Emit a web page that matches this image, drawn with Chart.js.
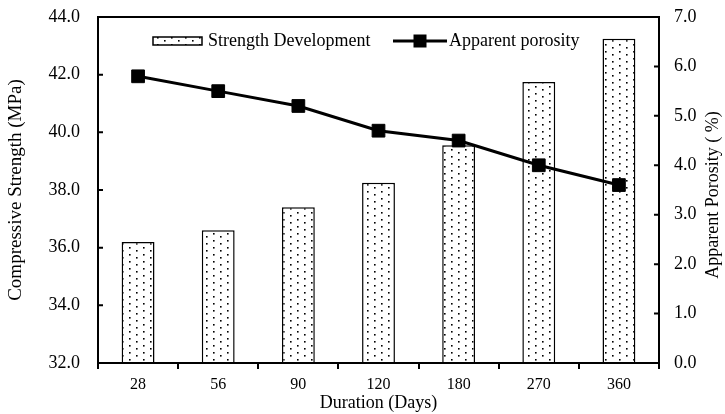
<!DOCTYPE html>
<html>
<head>
<meta charset="utf-8">
<script src="https://cdn.jsdelivr.net/npm/chart.js@4.4.1/dist/chart.umd.min.js"></script>
<style>
html,body{margin:0;padding:0;background:#fff;}
#wrap{width:725px;height:414px;position:relative;}
</style>
</head>
<body>
<div id="wrap"><canvas id="c" width="725" height="414"></canvas></div>
<script>
// ---- data ----
const categories = ['28', '56', '90', '120', '180', '270', '360'];
const strengthValues = [36.2, 36.6, 37.4, 38.25, 39.55, 41.75, 43.25];
const porosityValues = [5.8, 5.5, 5.2, 4.7, 4.5, 4.0, 3.6];
const leftTicks = [32, 34, 36, 38, 40, 42, 44];
const rightTicks = [0, 1, 2, 3, 4, 5, 6, 7];
const strengthLabel = 'Strength Development';
const porosityLabel = 'Apparent porosity';
const leftTitle = 'Compressive Strength (MPa)';
const rightTitle = 'Apparent Porosity ( %)';
const xTitle = 'Duration (Days)';

const FONT = "'Liberation Serif', 'Times New Roman', serif";

// dotted pattern
function makePattern() {
  const t = document.createElement('canvas');
  t.width = 14; t.height = 14;
  const g = t.getContext('2d');
  g.fillStyle = '#fff';
  g.fillRect(0, 0, 14, 14);
  g.fillStyle = '#000';
  [[3, 2], [10, 5], [3, 9], [10, 12]].forEach(p => g.fillRect(p[0], p[1], 1.6, 1.6));
  return document.getElementById('c').getContext('2d').createPattern(t, 'repeat');
}
const dots = makePattern();

const overlay = {
  id: 'overlay',
  afterDraw(chart) {
    const ctx = chart.ctx;
    const a = chart.chartArea;
    ctx.save();
    // frame
    ctx.strokeStyle = '#000';
    ctx.lineWidth = 2;
    ctx.strokeRect(a.left, a.top, a.right - a.left, a.bottom - a.top);
    // inward tick marks on both value axes
    ctx.beginPath();
    const yl = chart.scales.yL, yr = chart.scales.yR;
    yl.ticks.forEach(t => { const y = yl.getPixelForValue(t.value); ctx.moveTo(a.left, y); ctx.lineTo(a.left + 5, y); });
    yr.ticks.forEach(t => { const y = yr.getPixelForValue(t.value); ctx.moveTo(a.right, y); ctx.lineTo(a.right - 5, y); });
    ctx.stroke();
    // legend
    const ly = a.top + 24;
    ctx.fillStyle = dots;
    ctx.fillRect(a.left + 55, ly - 4, 49, 8);
    ctx.lineWidth = 1.5;
    ctx.strokeRect(a.left + 55, ly - 4, 49, 8);
    ctx.fillStyle = '#000';
    ctx.font = '18px ' + FONT;
    ctx.textBaseline = 'middle';
    ctx.textAlign = 'left';
    ctx.fillText(strengthLabel, a.left + 110, ly);
    ctx.lineWidth = 3;
    ctx.beginPath();
    ctx.moveTo(a.left + 295, ly);
    ctx.lineTo(a.left + 349, ly);
    ctx.stroke();
    ctx.fillRect(a.left + 322 - 6.5, ly - 6.5, 13, 13);
    ctx.fillText(porosityLabel, a.left + 351, ly);
    // right title (reads bottom to top)
    ctx.translate(713, (a.top + a.bottom) / 2 + 5);
    ctx.rotate(-Math.PI / 2);
    ctx.textAlign = 'center';
    ctx.font = '18px ' + FONT;
    ctx.fillText(rightTitle, 0, 0);
    ctx.restore();
  }
};

new Chart(document.getElementById('c'), {
  data: {
    labels: categories,
    datasets: [
      {
        type: 'line',
        label: porosityLabel,
        data: porosityValues,
        yAxisID: 'yR',
        borderColor: '#000',
        backgroundColor: '#000',
        borderWidth: 3,
        pointStyle: 'rect',
        pointRadius: 9,
        pointBorderWidth: 1,
        pointBackgroundColor: '#000',
        tension: 0,
        order: 0
      },
      {
        type: 'bar',
        label: strengthLabel,
        data: strengthValues,
        yAxisID: 'yL',
        base: 32,
        backgroundColor: dots,
        borderColor: '#000',
        borderWidth: 1.5,
        barPercentage: 0.41,
        categoryPercentage: 1,
        order: 1
      }
    ]
  },
  options: {
    responsive: false,
    animation: false,
    layout: { padding: { top: 17, left: 0, right: 0, bottom: 0 } },
    plugins: { legend: { display: false }, tooltip: { enabled: false } },
    scales: {
      x: {
        offset: true,
        grid: { display: true, drawOnChartArea: false, drawTicks: true, tickLength: 6, color: '#000', lineWidth: 2, offset: true },
        border: { display: true, color: '#000', width: 2 },
        ticks: { color: '#000', font: { family: FONT, size: 16 }, padding: 6, maxRotation: 0 },
        title: { display: true, text: xTitle, color: '#000', font: { family: FONT, size: 18 }, padding: { top: 0, bottom: 0 } },
        afterFit(s) { s.height = 51; }
      },
      yL: {
        position: 'left',
        min: 32, max: 44,
        afterBuildTicks(s) { s.ticks = leftTicks.map(v => ({ value: v })); },
        grid: { display: true, drawOnChartArea: false, drawTicks: true, tickLength: 13, tickColor: 'rgba(0,0,0,0)', color: '#000', lineWidth: 2 },
        border: { display: true, color: '#000', width: 2 },
        ticks: { color: '#000', font: { family: FONT, size: 18 }, padding: 5, callback: v => Number(v).toFixed(1) },
        title: { display: true, text: leftTitle, color: '#000', font: { family: FONT, size: 19 }, padding: { top: 5, bottom: 4 } },
        afterFit(s) { s.width = 98; }
      },
      yR: {
        position: 'right',
        min: 0, max: 7,
        afterBuildTicks(s) { s.ticks = rightTicks.map(v => ({ value: v })); },
        grid: { display: true, drawOnChartArea: false, drawTicks: true, tickLength: 10, tickColor: 'rgba(0,0,0,0)', color: '#000', lineWidth: 2 },
        border: { display: true, color: '#000', width: 2 },
        ticks: { color: '#000', font: { family: FONT, size: 18 }, padding: 5, callback: v => Number(v).toFixed(1) },
        afterFit(s) { s.width = 66; }
      }
    }
  },
  plugins: [overlay]
});
</script>
</body>
</html>
